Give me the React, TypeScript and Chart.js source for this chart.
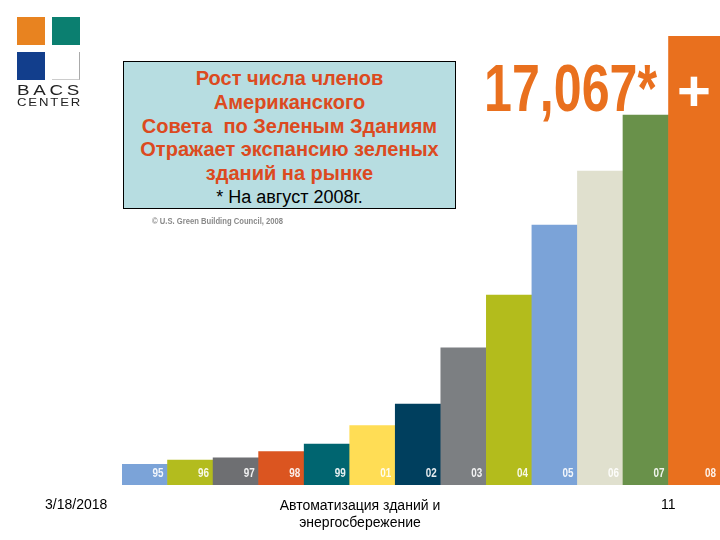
import { useEffect, useRef } from 'react';
import { Chart, registerables } from 'chart.js';
import type { CSSProperties } from 'react';

Chart.register(...registerables);

const years = ['95', '96', '97', '98', '99', '01', '02', '03', '04', '05', '06', '07', '08'];
const members = [790, 950, 1030, 1270, 1560, 2260, 3080, 5210, 7220, 9880, 11930, 14060, 17067];
const barColors = ['#7BA3D8', '#B3BC1E', '#6E6F72', '#DB5520', '#006570', '#FFDD55', '#003F5E', '#7C7F82', '#B3BC1C', '#7BA3D8', '#E0E0CE', '#69914A', '#E9701E'];
const boxLines = ['Рост числа членов', 'Американского', 'Совета  по Зеленым Зданиям', 'Отражает экспансию зеленых', 'зданий на рынке'];
const footerLines = ['Автоматизация зданий и', 'энергосбережение'];

const arial = '"Liberation Sans", Arial, sans-serif';

// last bar runs off the right of the slide
const stretchLastBar = {
    id: 'stretchLastBar',
    beforeDatasetsDraw(chart: any) {
        const bars = chart.getDatasetMeta(0).data;
        const last = bars[bars.length - 1];
        const left = last.x - last.width / 2;
        last.width = chart.chartArea.right - left;
        last.x = left + last.width / 2;
    },
};

// year labels sit inside the bars, bottom right, squeezed like the original type
const yearLabels = {
    id: 'yearLabels',
    afterDatasetsDraw(chart: any) {
        const { ctx, scales } = chart;
        const bars = chart.getDatasetMeta(0).data;
        years.forEach((year, i) => {
            ctx.save();
            ctx.translate(bars[i].x + bars[i].width / 2 - 4, scales.y.getPixelForValue(0) - 12);
            ctx.scale(0.76, 1);
            ctx.font = `bold 13px ${arial}`;
            ctx.textAlign = 'right';
            ctx.textBaseline = 'middle';
            ctx.fillStyle = 'rgba(255,255,255,0.9)';
            ctx.fillText(year, 0, 0);
            ctx.restore();
        });
    },
};

const abs = (left: number, top: number, extra: CSSProperties = {}): CSSProperties => ({
    position: 'absolute',
    left,
    top,
    whiteSpace: 'pre',
    ...extra,
});

export default function App() {
    const chartRef = useRef<HTMLCanvasElement>(null);

    useEffect(() => {
        const myChart = new Chart(chartRef.current!, {
            type: 'bar',
            data: {
                datasets: [{
                    data: members.map((v, i) => ({ x: i, y: v })),
                    backgroundColor: barColors,
                    borderWidth: 0,
                    barPercentage: 1,
                    categoryPercentage: 1,
                }],
            },
            options: {
                animation: false,
                responsive: false,
                devicePixelRatio: 1,
                layout: { padding: { left: 122, right: 0, top: 36, bottom: 55 } },
                plugins: { legend: { display: false }, tooltip: { enabled: false } },
                scales: {
                    x: {
                        type: 'linear',
                        offset: false,
                        bounds: 'data',
                        min: -0.5,
                        max: 12.63,
                        grid: { display: false, drawTicks: false },
                        border: { display: false },
                        ticks: { display: false, stepSize: 1 },
                    },
                    y: { display: false, min: 0, max: 17067 },
                },
            },
            plugins: [stretchLastBar, yearLabels],
        } as any);

        return () => {
            myChart.destroy();
        };
    }, []);

    return (
        <div style={{ position: 'absolute', left: 0, top: 0, width: 720, height: 540, overflow: 'hidden', background: '#fff', fontFamily: arial }}>
            <canvas ref={chartRef} width={720} height={540} style={{ position: 'absolute', left: 0, top: 0 }}></canvas>

            <div style={abs(17, 17, { width: 28, height: 28, background: '#E88320' })}></div>
            <div style={abs(52, 17, { width: 28, height: 28, background: '#0B7F70' })}></div>
            <div style={abs(17, 52, { width: 28, height: 28, background: '#123E8C' })}></div>
            <div style={abs(52, 52, { width: 27, height: 27, borderRight: '1px solid #aaa', borderBottom: '1px solid #ccc' })}></div>
            <div style={abs(17, 82, { fontSize: 15, lineHeight: '16px', color: '#222', letterSpacing: 3, transform: 'scaleX(1.25)', transformOrigin: 'left' })}>BACS</div>
            <div style={abs(17, 97, { fontSize: 10.5, lineHeight: '11px', color: '#222', letterSpacing: 1.5, transform: 'scaleX(1.25)', transformOrigin: 'left' })}>CENTER</div>

            <div style={abs(123, 61, { width: 331, height: 146, background: '#B7DDE1', border: '1px solid #000', textAlign: 'center' })}>
                <div style={{ paddingTop: 5, fontSize: 20, lineHeight: '23.8px', fontWeight: 'bold', color: '#DC4A20' }}>
                    {boxLines.map((line) => <div key={line}>{line}</div>)}
                </div>
                <div style={{ fontSize: 18, lineHeight: '22px', color: '#000' }}>* На август 2008г.</div>
            </div>
            <div style={abs(152, 216, { fontSize: 9, lineHeight: '11px', fontWeight: 'bold', color: '#8a8a8a', transform: 'scaleX(0.85)', transformOrigin: 'left' })}>© U.S. Green Building Council, 2008</div>

            <div style={abs(484, 52, { fontSize: 66, lineHeight: '72px', fontWeight: 'bold', color: '#E9701E', transform: 'scaleX(0.76)', transformOrigin: 'left' })}>17,067*</div>
            <div style={abs(668, 56, { width: 52, textAlign: 'center', fontSize: 58, lineHeight: '70px', fontWeight: 'bold', color: '#fff' })}>+</div>

            <div style={abs(45, 496, { fontSize: 14, lineHeight: '16px', color: '#000' })}>3/18/2018</div>
            <div style={abs(240, 497, { width: 240, textAlign: 'center', fontSize: 14, lineHeight: '17px', color: '#000' })}>
                {footerLines.map((line) => <div key={line}>{line}</div>)}
            </div>
            <div style={abs(661, 496, { fontSize: 14, lineHeight: '16px', color: '#000' })}>11</div>
        </div>
    );
}
